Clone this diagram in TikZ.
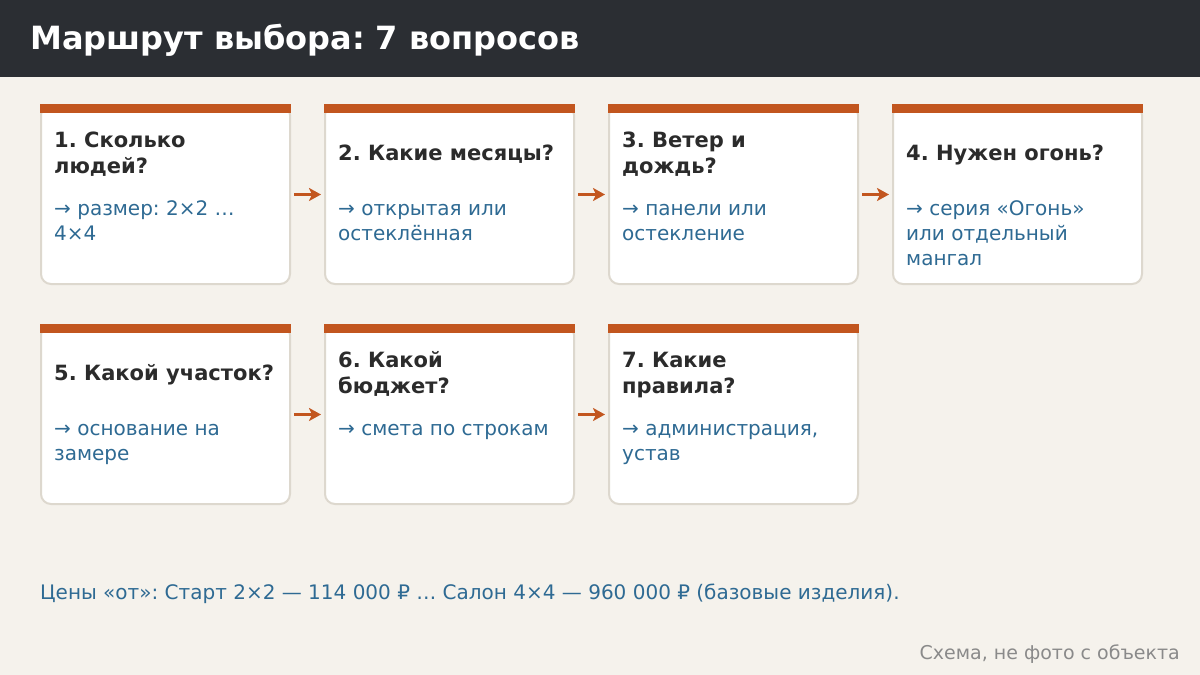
\documentclass[tikz,border=0pt]{standalone}
\usepackage{fontspec}
\setmainfont{DejaVu Sans}
\frenchspacing
\usetikzlibrary{arrows.meta}
\definecolor{bg}{HTML}{F5F2EC}
\definecolor{hdr}{HTML}{2B2E33}
\definecolor{accent}{HTML}{C2561F}
\definecolor{cardline}{HTML}{DDD8CE}
\definecolor{ttl}{HTML}{2B2B2B}
\definecolor{bodyc}{HTML}{2E6A93}
\definecolor{foot}{HTML}{8A8A8A}
\tikzset{
  card/.style={draw=cardline, line width=2pt, fill=white, rounded corners=10pt,
    minimum width=249pt, minimum height=179pt, inner sep=0pt},
  topbar/.style={fill=accent, minimum width=251pt, minimum height=9pt, inner sep=0pt, anchor=north},
  qtitle/.style={anchor=base west, inner sep=0pt, align=left, text=ttl,
    font=\fontsize{21}{26}\selectfont\bfseries},
  qbody/.style={anchor=base west, inner sep=0pt, align=left, text=bodyc,
    font=\fontsize{20}{25}\selectfont},
  arr/.style={draw=accent, line width=3pt, shorten <=3pt, shorten >=3pt,
    -{Stealth[length=12pt,width=13pt,inset=3pt]}},
}
\begin{document}
\begin{tikzpicture}[x=1pt,y=-1pt]
\useasboundingbox (0,0) rectangle (1200,675);
\fill[bg] (0,0) rectangle (1200,675);
\fill[hdr] (0,0) rectangle (1200,77);
\node[anchor=base west, inner sep=0pt, text=white, font=\fontsize{32}{36}\selectfont\bfseries] (title) at (30,49) {Маршрут выбора: 7 вопросов};

% row 1
\node[card] (c1) at (165.5,194.5) {};
\node[card] (c2) at (449.5,194.5) {};
\node[card] (c3) at (733.5,194.5) {};
\node[card] (c4) at (1017.5,194.5) {};
% row 2
\node[card] (c5) at (165.5,414.5) {};
\node[card] (c6) at (449.5,414.5) {};
\node[card] (c7) at (733.5,414.5) {};

\foreach \c in {c1,c2,c3,c4,c5,c6,c7} {
  \node[topbar] (\c bar) at (\c.north) {};
}

% base anchor = baseline of the last line
\node[qtitle] (t1) at (54,173) {1. Сколько\\людей?};
\node[qbody] (b1) at (54,240) {→ размер: 2×2 …\\4×4};
\node[qtitle] (t2) at (338,160) {2. Какие месяцы?};
\node[qbody] (b2) at (338,240) {→ открытая или\\остеклённая};
\node[qtitle] (t3) at (622,173) {3. Ветер и\\дождь?};
\node[qbody] (b3) at (622,240) {→ панели или\\остекление};
\node[qtitle] (t4) at (906,160) {4. Нужен огонь?};
\node[qbody] (b4) at (906,265) {→ серия «Огонь»\\или отдельный\\мангал};

\node[qtitle] (t5) at (54,380) {5. Какой участок?};
\node[qbody] (b5) at (54,460) {→ основание на\\замере};
\node[qtitle] (t6) at (338,393) {6. Какой\\бюджет?};
\node[qbody] (b6) at (338,435) {→ смета по строкам};
\node[qtitle] (t7) at (622,393) {7. Какие\\правила?};
\node[qbody] (b7) at (622,460) {→ администрация,\\устав};

\draw[arr] (c1) -- (c2);
\draw[arr] (c2) -- (c3);
\draw[arr] (c3) -- (c4);
\draw[arr] (c5) -- (c6);
\draw[arr] (c6) -- (c7);

\node[anchor=base west, inner sep=0pt, text=bodyc, font=\fontsize{20}{24}\selectfont] (prices) at (40,599) {Цены «от»: Старт 2×2 — 114 000 ₽ … Салон 4×4 — 960 000 ₽ (базовые изделия).};
\node[anchor=base east, inner sep=0pt, text=foot, font=\fontsize{19}{22}\selectfont] (note) at (1180,659) {Схема, не фото с объекта};
\end{tikzpicture}
\end{document}
